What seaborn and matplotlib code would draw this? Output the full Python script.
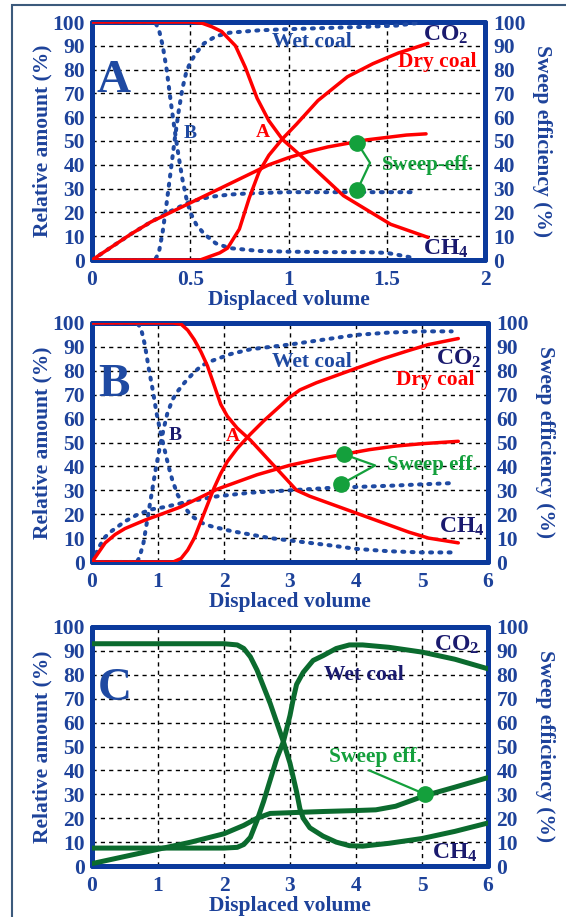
import matplotlib
matplotlib.use("Agg")
import matplotlib.pyplot as plt
import seaborn as sns
import pandas as pd
from matplotlib.patches import Rectangle

sns.set_style("white")
plt.rcParams['font.family'] = ['Liberation Serif', 'DejaVu Serif']
plt.rcParams['font.weight'] = 'bold'
plt.rcParams['mathtext.fontset'] = 'custom'
plt.rcParams['mathtext.rm'] = 'Liberation Serif:bold'
plt.rcParams['mathtext.bf'] = 'Liberation Serif:bold'
plt.rcParams['mathtext.it'] = 'Liberation Serif:bold:italic'
plt.rcParams['mathtext.default'] = 'rm'

# ---------------- Panel A data (x: displaced volume) ----------------
a_dry_co2_x = [0, 0.55, 0.60, 0.65, 0.69, 0.75, 0.80, 0.85, 0.90, 0.97, 1.04, 1.15, 1.30, 1.43, 1.56, 1.71]
a_dry_co2_y = [0, 0, 1.5, 3, 5, 13, 26, 37, 44, 51, 57, 67, 77, 82.5, 87, 91]
a_dry_ch4_x = [0, 0.50, 0.56, 0.61, 0.66, 0.73, 0.78, 0.84, 0.90, 0.97, 1.06, 1.15, 1.28, 1.39, 1.52, 1.71]
a_dry_ch4_y = [100, 100, 99.5, 98, 96, 90, 81, 68, 58.5, 50.6, 44, 37, 27, 21.5, 15, 9.5]
a_dry_sweep_x = [0, 0.1, 0.2, 0.3, 0.4, 0.5, 0.6, 0.7, 0.8, 0.9, 1.0, 1.1, 1.2, 1.3, 1.4, 1.5, 1.6, 1.7]
a_dry_sweep_y = [0, 5.5, 11, 16, 20, 24, 28, 32, 36, 40, 43, 45.5, 47.5, 49, 50.5, 51.5, 52.5, 53]
a_wet_co2_x = [0, 0.32, 0.34, 0.36, 0.38, 0.40, 0.42, 0.44, 0.46, 0.48, 0.50, 0.53, 0.57, 0.63, 0.70, 0.85, 1.0, 1.2, 1.4, 1.55, 1.65]
a_wet_co2_y = [0, 0, 3, 12, 24, 37, 50, 62, 72, 79, 83, 87, 91, 94, 95.5, 96.5, 97, 97.5, 98, 98.5, 99.5]
a_wet_ch4_x = [0, 0.32, 0.34, 0.36, 0.38, 0.40, 0.42, 0.44, 0.46, 0.48, 0.50, 0.53, 0.57, 0.63, 0.70, 0.85, 1.0, 1.2, 1.4, 1.5, 1.6, 1.65]
a_wet_ch4_y = [100, 100, 97, 90, 80, 67, 55, 44, 34, 26, 20, 15, 11, 7, 5, 3.8, 3.5, 3.3, 3.3, 3, 1.5, 0.5]
a_wet_sweep_x = [0, 0.1, 0.2, 0.3, 0.4, 0.5, 0.6, 0.7, 0.8, 1.0, 1.2, 1.4, 1.65]
a_wet_sweep_y = [0, 5.5, 11, 16, 20.5, 24.5, 26.5, 27.5, 28, 28.5, 28.5, 28.5, 28.5]
a_marker_x = [1.35, 1.35]
a_marker_y = [49.2, 29.4]
a_bracket_x = [1.35, 1.415, 1.35]
a_bracket_y = [49.2, 40.8, 29.4]

# ---------------- Panel B data ----------------
b_dry_co2_x = [0, 1.23, 1.35, 1.45, 1.55, 1.65, 1.75, 1.85, 1.95, 2.05, 2.2, 2.4, 2.6, 2.8, 3.0, 3.15, 3.4, 3.7, 4.0, 4.4, 4.8, 5.1, 5.55]
b_dry_co2_y = [0, 0, 1.5, 5, 10, 17, 24, 31, 37, 42, 47.5, 53.5, 59, 64, 69, 72, 75, 78, 81, 85, 88.5, 91, 93.5]
b_dry_ch4_x = [0, 1.23, 1.35, 1.45, 1.55, 1.65, 1.75, 1.85, 1.95, 2.05, 2.2, 2.4, 2.6, 2.8, 3.0, 3.1, 3.3, 3.6, 4.0, 4.4, 4.8, 5.1, 5.55]
b_dry_ch4_y = [100, 100, 99.5, 97, 93, 88, 82, 74, 66, 61, 56, 51, 45, 39, 33, 30, 27.5, 24.5, 20.5, 16.5, 12.5, 10, 8]
b_dry_sweep_x = [0, 0.1, 0.2, 0.35, 0.5, 0.8, 1.0, 1.34, 1.6, 1.9, 2.2, 2.5, 3.0, 3.5, 3.8, 4.2, 4.6, 5.0, 5.55]
b_dry_sweep_y = [0, 4, 8, 11.5, 14, 17.5, 19.5, 23, 26.5, 30.5, 33.5, 36.5, 40.5, 43.5, 45, 47, 48.5, 49.5, 50.5]
b_wet_co2_x = [0, 0.68, 0.72, 0.78, 0.84, 0.90, 0.96, 1.02, 1.08, 1.14, 1.22, 1.3, 1.4, 1.5, 1.65, 1.8, 2.1, 2.4, 2.7, 3.0, 3.5, 4.0, 4.5, 5.0, 5.45]
b_wet_co2_y = [0, 0, 2, 8, 18, 28, 38, 47, 55, 62, 68, 71.5, 75, 78, 82, 84, 87, 89, 90, 91, 93, 95, 96, 96.5, 96.5]
b_wet_ch4_x = [0, 0.68, 0.74, 0.80, 0.86, 0.92, 0.98, 1.04, 1.10, 1.16, 1.22, 1.3, 1.4, 1.5, 1.65, 1.8, 2.1, 2.4, 2.7, 3.0, 3.3, 3.6, 4.0, 4.5, 5.0, 5.45]
b_wet_ch4_y = [100, 100, 98, 91, 81, 72, 62, 54, 47, 40, 34, 28, 23, 19.5, 16.5, 15, 13, 11.5, 10, 9, 8, 7, 5.5, 4.5, 4, 4]
b_wet_sweep_x = [0, 0.1, 0.2, 0.3, 0.5, 0.7, 0.9, 1.1, 1.34, 1.6, 1.9, 2.4, 3.0, 3.6, 4.1, 4.6, 5.0, 5.45]
b_wet_sweep_y = [0, 6, 10.5, 13, 17, 20, 22, 23, 24.5, 26, 27.5, 29, 30, 31, 31.5, 32, 32.5, 33]
b_marker_x = [3.82, 3.77]
b_marker_y = [45, 32.5]
b_bracket_x = [3.82, 4.29, 3.77]
b_bracket_y = [45, 40.4, 32.5]

# ---------------- Panel C data ----------------
c_co2_x = [0, 1, 2, 2.2, 2.3, 2.4, 2.5, 2.6, 2.7, 2.8, 2.9, 3.0, 3.05, 3.1, 3.2, 3.35, 3.5, 3.7, 3.9, 4.1, 4.5, 5.0, 5.5, 6.0]
c_co2_y = [7.5, 7.5, 7.5, 7.8, 9, 12, 19, 27, 36, 45, 52, 63, 70, 76, 81, 86, 88, 91, 92.5, 92.5, 91.5, 89.5, 86.5, 82.5]
c_ch4_x = [0, 1, 2, 2.2, 2.3, 2.4, 2.5, 2.6, 2.7, 2.8, 2.9, 3.0, 3.1, 3.15, 3.2, 3.3, 3.5, 3.7, 3.9, 4.1, 4.5, 5.0, 5.5, 6.0]
c_ch4_y = [93, 93, 93, 92.5, 91, 87.5, 82, 75, 68, 60, 52, 43, 31, 24, 20, 16, 12.5, 10, 8.5, 8.3, 9.5, 11.5, 14.5, 18]
c_sweep_x = [0, 0.5, 1.0, 1.5, 2.0, 2.3, 2.5, 2.7, 3.0, 3.5, 4.0, 4.3, 4.6, 5.05, 5.5, 6.0]
c_sweep_y = [1, 4, 7, 10, 13.5, 17, 20, 22, 22.3, 22.8, 23.2, 23.5, 25, 29.5, 33, 37]
c_marker_x = [5.05]
c_marker_y = [30]
c_pointer_x = [5.05, 4.2]
c_pointer_y = [30, 40]

yticks = list(range(0, 101, 10))

SPINE = "#0b3a9c"
TICK = "#1d429a"
NAVY = "#1a1a6e"
RED = "#ff0000"
BLUE = "#1f4aa2"
DKGREEN = "#0b6b2e"
GREEN = "#14a03c"
FS = 15.5

W, H = 566, 917
fig = plt.figure(figsize=(W / 100, H / 100), dpi=100)

# outer frame
fig.patches.append(Rectangle((12 / W, -0.1), 1.2, 1 - 5 / H + 0.1, transform=fig.transFigure,
                             fill=False, edgecolor="#3c5a7c", linewidth=1.5))


def px_axes(left, right, top, bottom):
    return [left / W, 1 - bottom / H, (right - left) / W, (bottom - top) / H]


def curve(ax, x, y, color, lw, dotted=False):
    df = pd.DataFrame({"x": x, "y": y})
    sns.lineplot(data=df, x="x", y="y", ax=ax, color=color, linewidth=lw,
                 estimator=None, sort=False, zorder=4)
    ln = ax.lines[-1]
    if dotted:
        ln.set_linestyle((0, (0.5, 1.8)))
        ln.set_dash_capstyle("round")
    else:
        ln.set_solid_capstyle("round")
        ln.set_solid_joinstyle("round")


def setup(ax, xmax, xticks, xticklabels):
    ax.set_xlim(0, xmax)
    ax.set_ylim(0, 100)
    ax.set_xticks(xticks)
    ax.set_xticklabels(xticklabels, fontweight="bold")
    ax.set_yticks(yticks)
    ax.set_yticklabels([str(v) for v in yticks], fontweight="bold")
    ax.tick_params(axis="y", length=0, labelsize=FS, labelcolor=TICK, pad=5)
    ax.tick_params(axis="x", length=0, labelsize=FS, labelcolor=TICK, pad=7)
    ax.grid(True, color="black", linestyle=(0, (3, 3)), linewidth=1.0)
    ax.set_axisbelow(True)
    ax.set_xlabel("Displaced volume", fontsize=FS, fontweight="bold", color=TICK)
    ax.set_ylabel("Relative amount (%)", fontsize=FS, fontweight="bold", color=TICK)
    for s in ax.spines.values():
        s.set_color(SPINE)
        s.set_linewidth(3.6)
        s.set_capstyle("round")
    ax2 = ax.twinx()
    ax2.set_ylim(0, 100)
    ax2.set_yticks(yticks)
    ax2.set_yticklabels([str(v) for v in yticks], fontweight="bold")
    ax2.tick_params(length=0, labelsize=FS, labelcolor=TICK, pad=6)
    ax2.set_ylabel("Sweep efficiency (%)", rotation=270, fontsize=FS, fontweight="bold", color=TICK)
    for s in ax2.spines.values():
        s.set_visible(False)
    return ax2


def species(ax, x, y, label):
    ax.text(x, y, label, ha="center", va="center", fontsize=17, fontweight="bold", color=NAVY, zorder=6)


def note(ax, x, y, label, color, size=15.5):
    ax.text(x, y, label, ha="center", va="center", fontsize=size, fontweight="bold", color=color, zorder=6)


# ---------------- Panel A ----------------
axA = fig.add_axes(px_axes(92, 485, 22, 260))
curve(axA, a_wet_co2_x, a_wet_co2_y, BLUE, 2.9, dotted=True)
curve(axA, a_wet_ch4_x, a_wet_ch4_y, BLUE, 2.9, dotted=True)
curve(axA, a_wet_sweep_x, a_wet_sweep_y, BLUE, 2.9, dotted=True)
curve(axA, a_dry_co2_x, a_dry_co2_y, RED, 2.5)
curve(axA, a_dry_ch4_x, a_dry_ch4_y, RED, 2.5)
curve(axA, a_dry_sweep_x, a_dry_sweep_y, RED, 2.5)
axA.plot(a_bracket_x, a_bracket_y, color=GREEN, lw=1.6, zorder=5)
axA.plot(a_marker_x, a_marker_y, "o", color=GREEN, ms=11, zorder=6)
axA2 = setup(axA, 2, [0, 0.5, 1, 1.5, 2], ["0", "0.5", "1", "1.5", "2"])
note(axA, 1.71, 40, "Sweep-eff.", GREEN, 15)
note(axA, 1.12, 91.8, "Wet coal", BLUE)
note(axA, 1.755, 83, "Dry coal", RED)
species(axA, 1.8, 94.6, "CO$_2$")
species(axA, 1.8, 4.5, "CH$_4$")
note(axA, 0.87, 53.5, "A", RED, 14)
note(axA, 0.5, 53, "B", BLUE, 14)
note(axA, 0.11, 75, "A", BLUE, 34)

# ---------------- Panel B ----------------
axB = fig.add_axes(px_axes(92, 488, 323, 562))
curve(axB, b_wet_co2_x, b_wet_co2_y, BLUE, 2.9, dotted=True)
curve(axB, b_wet_ch4_x, b_wet_ch4_y, BLUE, 2.9, dotted=True)
curve(axB, b_wet_sweep_x, b_wet_sweep_y, BLUE, 2.9, dotted=True)
curve(axB, b_dry_co2_x, b_dry_co2_y, RED, 2.5)
curve(axB, b_dry_ch4_x, b_dry_ch4_y, RED, 2.5)
curve(axB, b_dry_sweep_x, b_dry_sweep_y, RED, 2.5)
axB.plot(b_bracket_x, b_bracket_y, color=GREEN, lw=1.6, zorder=5)
axB.plot(b_marker_x, b_marker_y, "o", color=GREEN, ms=11, zorder=6)
axB2 = setup(axB, 6, list(range(7)), [str(v) for v in range(7)])
note(axB, 5.15, 40.4, "Sweep eff.", GREEN, 15)
note(axB, 3.33, 83.8, "Wet coal", BLUE)
note(axB, 5.2, 76, "Dry coal", RED)
species(axB, 5.55, 85, "CO$_2$")
species(axB, 5.6, 14.6, "CH$_4$")
note(axB, 2.13, 52.5, "A", RED, 14)
note(axB, 1.26, 53, "B", NAVY, 14)
note(axB, 0.33, 74, "B", BLUE, 34)

# ---------------- Panel C ----------------
axC = fig.add_axes(px_axes(92, 488, 627, 866))
curve(axC, c_co2_x, c_co2_y, DKGREEN, 3.6)
curve(axC, c_ch4_x, c_ch4_y, DKGREEN, 3.6)
curve(axC, c_sweep_x, c_sweep_y, DKGREEN, 3.6)
axC.plot(c_pointer_x, c_pointer_y, color=GREEN, lw=1.6, zorder=5)
axC.plot(c_marker_x, c_marker_y, "o", color=GREEN, ms=11, zorder=6)
axC2 = setup(axC, 6, list(range(7)), [str(v) for v in range(7)])
note(axC, 4.3, 45.5, "Sweep eff.", GREEN, 15.5)
note(axC, 4.12, 80, "Wet coal", NAVY)
species(axC, 5.52, 92.6, "CO$_2$")
species(axC, 5.5, 5.3, "CH$_4$")
note(axC, 0.35, 74, "C", BLUE, 34)

for ax in (axA, axB, axC):
    ax.yaxis.set_label_coords(-0.10, 0.5)
    ax.xaxis.set_label_coords(0.5, -0.125)
for ax in (axA2, axB2, axC2):
    ax.yaxis.set_label_coords(1.17, 0.5)

fig.savefig("out.png", dpi=100)
